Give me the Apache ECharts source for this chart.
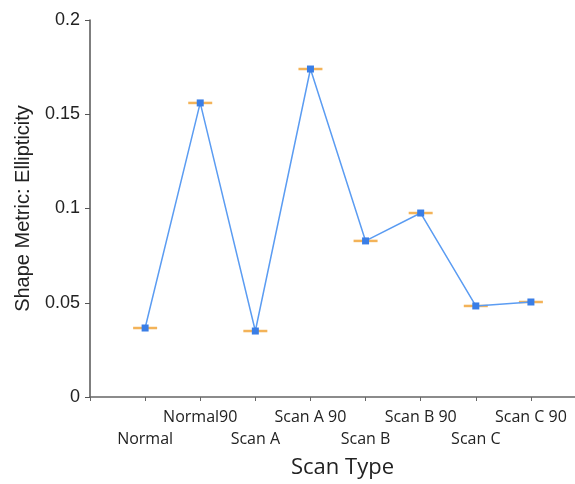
<!DOCTYPE html>
<html><head><meta charset="utf-8">
<script src="https://cdn.jsdelivr.net/npm/echarts@6/dist/echarts.min.js"></script>
<style>html,body{margin:0;padding:0;background:#fff}#c{width:575px;height:484px}</style>
</head><body><div id="c"></div>
<script>
const categories = ['Normal','Normal90','Scan A','Scan A 90','Scan B','Scan B 90','Scan C','Scan C 90'];
const ellipticity = [0.0366,0.156,0.035,0.174,0.0828,0.0976,0.0483,0.0504];
const yTicks = [0,0.05,0.1,0.15,0.2];

const pts = categories.map((c,i)=>[i+1, ellipticity[i]]);
const chart = echarts.init(document.getElementById('c'));
chart.setOption({
  animation:false,
  grid:{left:90,right:0,top:20,bottom:87},
  xAxis:{type:'value',min:0,max:8.8,interval:1,
    name:'Scan Type',nameLocation:'middle',nameGap:60,
    nameTextStyle:{fontFamily:'Open Sans',fontSize:22,color:'#222',padding:[0,0,0,20]},
    axisLine:{lineStyle:{color:'#666',width:1.5}},
    axisTick:{length:4,lineStyle:{color:'#666'}},
    splitLine:{show:false},
    axisLabel:{fontFamily:'Open Sans',fontSize:16,color:'#222',margin:9,lineHeight:22,
      showMaxLabel:false,
      formatter:v=>{const i=Math.round(v)-1; if(Math.abs(v-Math.round(v))>1e-6||i<0||i>=categories.length) return ''; return i%2===0?'\n'+categories[i]:categories[i]+'\n';}}
  },
  yAxis:{type:'value',min:0,max:0.2,interval:0.05,
    name:'Shape Metric: Ellipticity',nameLocation:'middle',nameGap:57,
    nameTextStyle:{fontFamily:'Liberation Sans',fontSize:20,color:'#222'},
    axisLine:{show:true,lineStyle:{color:'#555',width:1.5}},
    axisTick:{show:true,length:5,lineStyle:{color:'#555'}},
    splitLine:{show:false},
    axisLabel:{fontFamily:'Liberation Sans',fontSize:18,color:'#222',margin:10,
      formatter:v=>String(+v.toFixed(2))}
  },
  series:[
    {type:'scatter',data:pts,symbol:'rect',symbolSize:[24,2.5],itemStyle:{color:'#f0a030'},z:2},
    {type:'line',data:pts,symbol:'rect',symbolSize:7,
      lineStyle:{color:'#5b9cf2',width:1.5},itemStyle:{color:'#3a7ee6'},z:3}
  ]
});
</script></body></html>
